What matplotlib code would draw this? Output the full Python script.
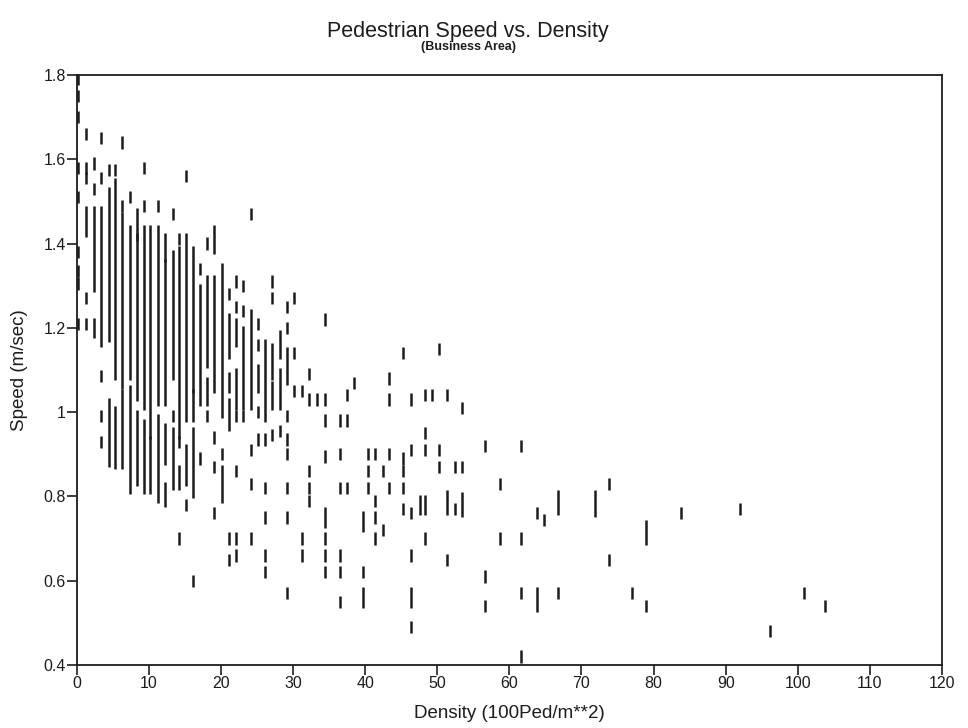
import numpy as np
import matplotlib
matplotlib.use("Agg")
import matplotlib.pyplot as plt

plt.rcParams['font.family'] = ['Liberation Sans', 'DejaVu Sans']

title = "Pedestrian Speed vs. Density"
subtitle = "(Business Area)"
x_label = "Density (100Ped/m**2)"
y_label = "Speed (m/sec)"
x_ticks = [0, 10, 20, 30, 40, 50, 60, 70, 80, 90, 100, 110, 120]
y_ticks = [0.4, 0.6, 0.8, 1.0, 1.2, 1.4, 1.6, 1.8]
y_tick_labels = ["0.4", "0.6", "0.8", "1", "1.2", "1.4", "1.6", "1.8"]

# runs of stacked observations: density, lowest speed, highest speed
run_density = [1.2, 2.3, 2.3, 3.3, 4.4, 4.4, 5.3, 5.3, 6.3, 6.3, 7.3, 7.3,
               8.3, 8.3, 8.3, 9.3, 9.3, 10.2, 10.2, 11.2, 11.2,
               12.2, 12.2, 12.2, 12.2, 13.3, 13.3, 14.1, 14.1, 15.1, 15.1,
               16.1, 16.1, 16.1, 17.1, 18.1, 18.1, 19.0, 19.0, 20.1, 20.1,
               21.1, 21.1, 21.1, 22.1, 22.1, 23.0, 24.1, 25.1, 26.1,
               27.1, 27.1, 28.2, 28.2, 29.2, 34.4, 39.7, 39.7, 46.4,
               47.6, 48.3, 51.4, 53.4, 63.8, 66.7, 71.9, 78.9]
run_low = [1.43, 1.30, 1.19, 1.17, 1.18, 0.885, 1.09, 0.88, 1.07, 0.88, 1.09, 0.82,
           1.42, 1.04, 0.84, 1.02, 0.82, 0.95, 0.82, 1.03, 0.80,
           1.37, 1.03, 0.89, 0.79, 1.09, 0.83, 0.95, 0.83, 0.99, 0.84,
           1.06, 0.99, 0.81, 1.03, 1.12, 1.03, 1.39, 1.06, 1.00, 0.80,
           1.14, 1.06, 0.97, 1.17, 1.02, 1.02, 1.02, 1.06, 0.99,
           1.09, 1.02, 1.14, 1.02, 1.08, 0.74, 0.73, 0.55, 0.55,
           0.77, 0.77, 0.77, 0.765, 0.54, 0.77, 0.765, 0.70]
run_high = [1.475, 1.475, 1.21, 1.475, 1.52, 1.02, 1.54, 1.00, 1.46, 1.04, 1.43, 1.05,
            1.47, 1.41, 0.99, 1.43, 0.97, 1.43, 0.93, 1.43, 0.98,
            1.41, 1.35, 0.96, 0.82, 1.37, 0.95, 1.38, 0.86, 1.41, 0.91,
            1.38, 1.04, 0.95, 1.29, 1.31, 1.07, 1.43, 1.31, 1.34, 0.86,
            1.22, 1.08, 1.02, 1.21, 1.09, 1.19, 1.23, 1.10, 1.16,
            1.15, 1.06, 1.18, 1.09, 1.14, 0.76, 0.75, 0.57, 0.57,
            0.79, 0.79, 0.80, 0.795, 0.57, 0.80, 0.80, 0.73]

# single observations grouped by density
single_density = [0.2, 1.2, 2.3, 3.3, 4.4, 5.3, 6.3, 7.3, 9.3, 11.2, 13.3, 14.1,
                  15.1, 16.1, 17.1, 18.1, 19.0, 20.1, 21.1, 22.1, 23.0, 24.1,
                  25.1, 26.1, 27.1, 28.2, 29.2, 30.1, 31.2, 32.2, 33.3, 34.4,
                  36.5, 37.4, 38.4, 39.7, 40.4, 41.4, 42.5, 43.3, 45.3, 46.4,
                  48.3, 49.3, 50.3, 51.4, 52.4, 53.4, 56.6, 58.7, 61.6, 63.8,
                  64.8, 66.7, 73.8, 77.0, 78.9, 83.8, 92.0, 96.1, 100.9, 103.8]
single_speeds = [
    [1.79, 1.75, 1.70, 1.58, 1.51, 1.38, 1.335, 1.305, 1.21],
    [1.66, 1.58, 1.555, 1.27, 1.21],
    [1.59, 1.53],
    [1.65, 1.555, 1.085, 0.99, 0.93],
    [1.575],
    [1.575],
    [1.64, 1.49],
    [1.51],
    [1.58, 1.49],
    [1.49],
    [1.47, 0.99],
    [1.41, 0.93, 0.70],
    [1.56, 0.78],
    [0.60],
    [1.34, 0.89],
    [1.40, 0.99],
    [0.94, 0.87, 0.76],
    [0.90],
    [1.28, 0.70, 0.65],
    [1.31, 1.25, 0.99, 0.86, 0.70, 0.66],
    [1.30, 1.24, 0.99],
    [1.47, 0.91, 0.83, 0.70],
    [1.21, 1.16, 1.00, 0.935],
    [0.935, 0.82, 0.75, 0.66, 0.62],
    [1.31, 1.27, 0.945],
    [0.955],
    [1.25, 1.20, 0.99, 0.935, 0.90, 0.82, 0.75, 0.57],
    [1.27, 1.14, 1.05],
    [1.05, 0.70, 0.66],
    [1.09, 1.03, 0.86, 0.82, 0.79],
    [1.03],
    [1.22, 1.03, 0.98, 0.895, 0.70, 0.66, 0.62],
    [0.98, 0.90, 0.82, 0.66, 0.62, 0.55],
    [1.04, 0.98, 0.82],
    [1.07],
    [0.62],
    [0.90, 0.86, 0.82],
    [0.90, 0.79, 0.75, 0.70],
    [0.86, 0.72],
    [1.08, 1.03, 0.90, 0.82],
    [1.14, 0.89, 0.86, 0.82, 0.77],
    [1.03, 0.91, 0.76, 0.66, 0.49],
    [1.04, 0.95, 0.91, 0.70],
    [1.04],
    [1.15, 0.91, 0.87],
    [1.04, 0.65],
    [0.87, 0.77],
    [1.01, 0.87],
    [0.92, 0.61, 0.54],
    [0.83, 0.70],
    [0.92, 0.70, 0.57, 0.42],
    [0.76],
    [0.745],
    [0.57],
    [0.83, 0.65],
    [0.57],
    [0.54],
    [0.76],
    [0.77],
    [0.48],
    [0.57],
    [0.54],
]

ink = "#1c1c1c"
half = 0.0145  # half height of one tick mark

fig = plt.figure(figsize=(9.68, 7.28), dpi=100)
ax = fig.add_axes([0.0795, 0.0865, 0.8935, 0.8105])

ax.vlines(run_density, np.array(run_low) - half, np.array(run_high) + half,
          colors=ink, linewidth=1.8, capstyle="butt")
sd, ss = [], []
for d, speeds in zip(single_density, single_speeds):
    for s in speeds:
        sd.append(d)
        ss.append(s)
ss = np.array(ss)
ax.vlines(sd, ss - half, ss + half, colors=ink, linewidth=1.8, capstyle="butt")

ax.set_xlim(0, 120)
ax.set_ylim(0.4, 1.8)
ax.set_xticks(x_ticks)
ax.set_xticklabels([str(t) for t in x_ticks])
ax.set_yticks(y_ticks)
ax.set_yticklabels(y_tick_labels)
ax.tick_params(direction="out", length=7, width=1.2, labelsize=11.5, colors=ink, pad=1)
for sp in ax.spines.values():
    sp.set_linewidth(1.3)
    sp.set_color(ink)

ax.set_xlabel(x_label, fontsize=13.5, color=ink, labelpad=10)
ax.set_ylabel(y_label, fontsize=13.5, color=ink, labelpad=11)

fig.text(0.4835, 0.957, title, ha="center", va="center", fontsize=15.5, color=ink)
fig.text(0.4835, 0.935, subtitle, ha="center", va="center", fontsize=9,
         fontweight="bold", color=ink, fontstretch="condensed")

fig.savefig("out.png", dpi=100, facecolor="white")
